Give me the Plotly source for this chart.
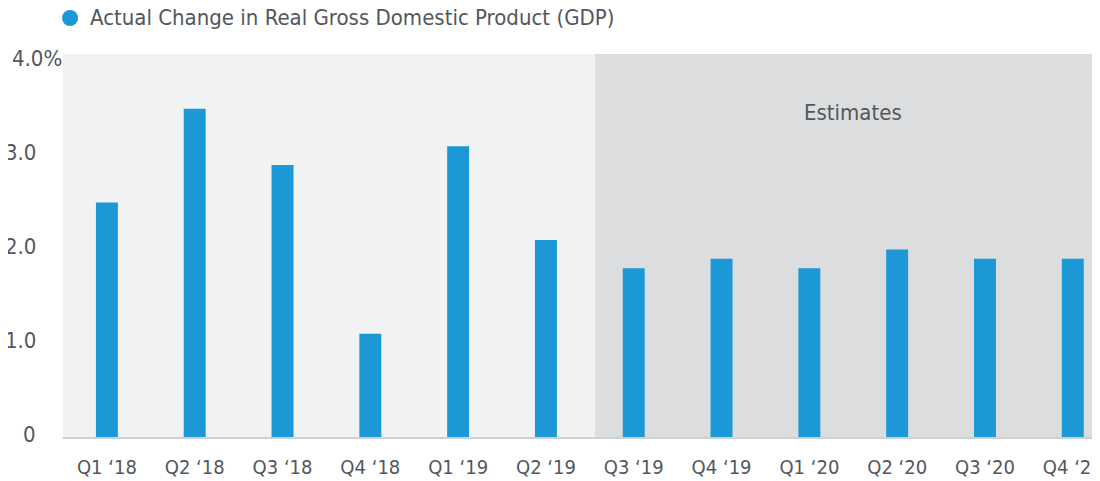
import plotly.graph_objects as go

quarters = ["Q1 ‘18", "Q2 ‘18", "Q3 ‘18", "Q4 ‘18", "Q1 ‘19", "Q2 ‘19",
            "Q3 ‘19", "Q4 ‘19", "Q1 ‘20", "Q2 ‘20", "Q3 ‘20", "Q4 ‘20"]
gdp_change = [2.5, 3.5, 2.9, 1.1, 3.1, 2.1, 1.8, 1.9, 1.8, 2.0, 1.9, 1.9]
y_tick_vals = [0, 1, 2, 3, 4]
y_tick_text = ["0", "1.0", "2.0", "3.0", "4.0%"]
series_name = "Actual Change in Real Gross Domestic Product (GDP)"
estimates_label = "Estimates"

BLUE = "#1c98d6"
TEXT = "#53575c"
FONT = "Liberation Sans Narrow, DejaVu Sans Condensed, Arial Narrow, sans-serif"

fig = go.Figure()
fig.add_trace(go.Bar(x=quarters, y=gdp_change, name=series_name,
                     marker=dict(color=BLUE, line=dict(width=0)),
                     width=0.25, showlegend=False, hoverinfo="x+y"))

# Estimates region shading
fig.add_shape(type="rect", xref="x", yref="paper", x0=5.56, x1=11.6, y0=0, y1=1,
              fillcolor="#dcdddf", line=dict(width=0), layer="below")

fig.add_annotation(x=8.5, y=3.46, xref="x", yref="y", text=estimates_label, showarrow=False,
                   font=dict(family=FONT, size=22, color=TEXT))

# legend (circle + label) at top
fig.add_shape(type="circle", xref="paper", yref="paper",
              xsizemode="pixel", ysizemode="pixel", xanchor=0.0068, yanchor=1.094,
              x0=-8, x1=8, y0=-8, y1=8, fillcolor=BLUE, line=dict(width=0))
fig.add_annotation(x=0.0241, y=1.094, xref="paper", yref="paper", text=series_name,
                   xanchor="left", yanchor="middle", showarrow=False,
                   font=dict(family=FONT, size=22, color=TEXT))

for v, t in zip(y_tick_vals, y_tick_text):
    if t.endswith("%"):
        fig.add_annotation(x=-0.0511, y=v, xref="paper", yref="y", text=t, xanchor="left",
                           showarrow=False, yshift=3, font=dict(family=FONT, size=22, color=TEXT))
    else:
        fig.add_annotation(x=-0.0241, y=v, xref="paper", yref="y", text=t, xanchor="right",
                           showarrow=False, yshift=3, font=dict(family=FONT, size=22, color=TEXT))

fig.update_layout(
    width=1092, height=473,
    margin=dict(l=55, r=0, t=46, b=43.5),
    paper_bgcolor="white", plot_bgcolor="#f1f2f4",
    font=dict(family=FONT, color=TEXT, size=22),
    bargap=0.75,
    showlegend=False,
    xaxis=dict(type="category", range=[-0.5, 11.31], showgrid=False, zeroline=False,
               showline=True, linecolor="#cfd0d2", linewidth=2, ticks="",
               ticklabelstandoff=11,
               tickfont=dict(family=FONT, size=20, color=TEXT), automargin=False),
    yaxis=dict(range=[0, 4.085], showgrid=False, zeroline=False, showticklabels=False,
               showline=False, automargin=False, fixedrange=True),
)

fig.write_html("out.html")
